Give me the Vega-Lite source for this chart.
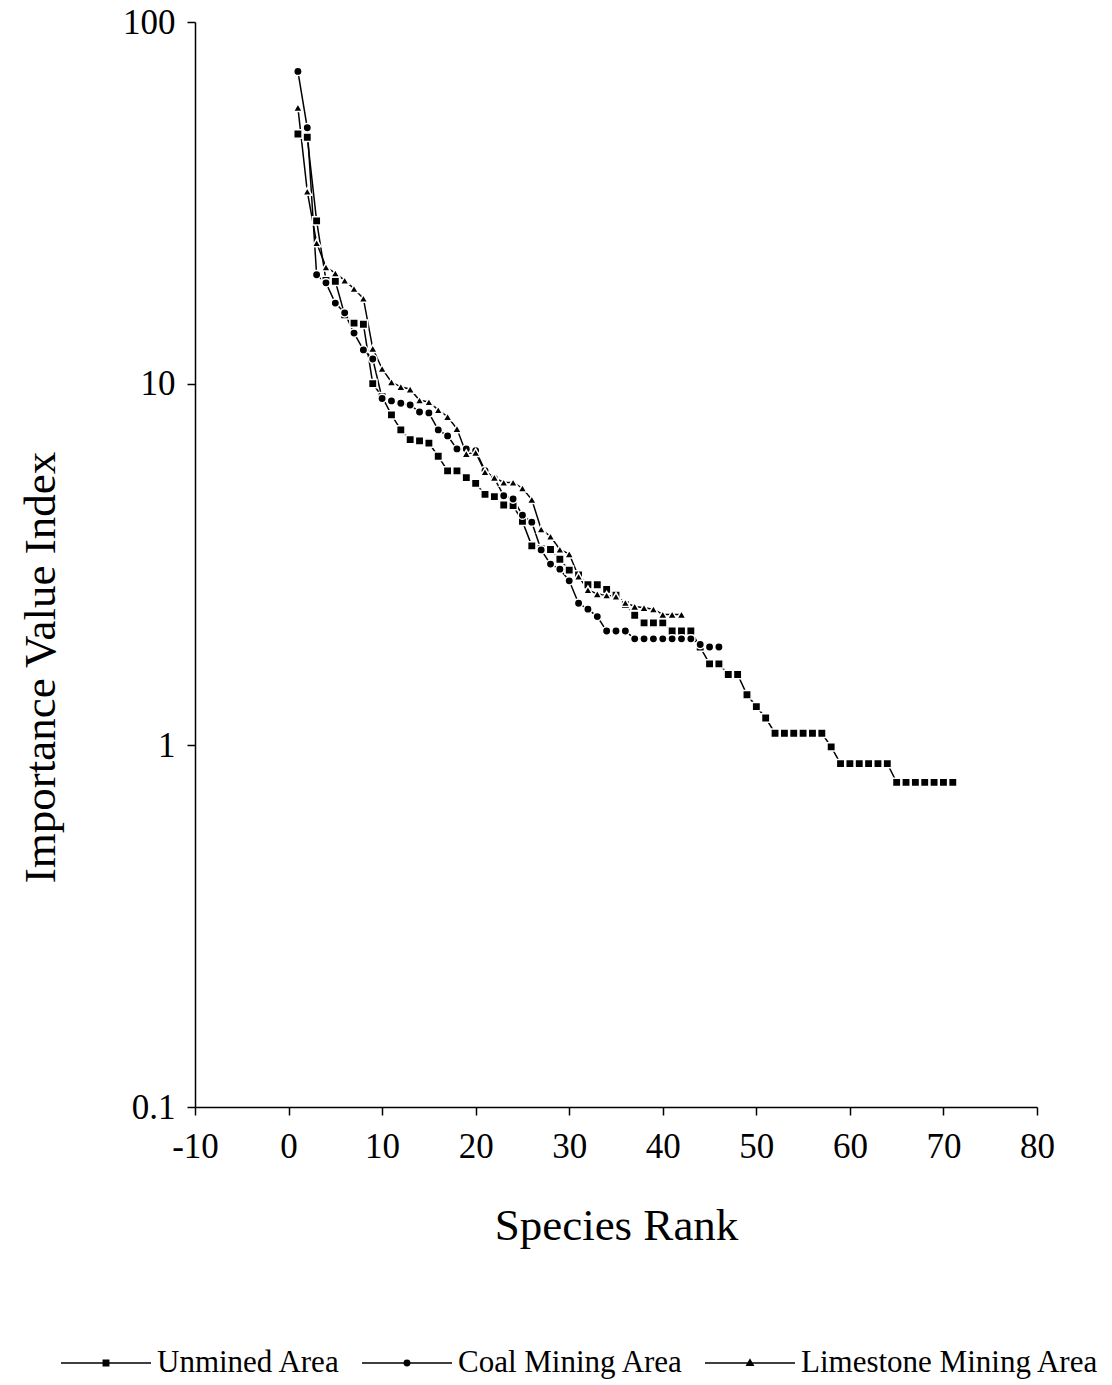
{
"$schema": "https://vega.github.io/schema/vega-lite/v6.json",
"width": 842, "height": 1085,
"autosize": {"type": "none"},
"padding": {"left": 195, "top": 22, "right": 75, "bottom": 278},
"background": "white",
"config": {"view": {"stroke": null}, "font": "Liberation Serif"},
"data": {"values": [
{"area":"Unmined Area","rank":1,"ivi":49},{"area":"Unmined Area","rank":2,"ivi":48},{"area":"Unmined Area","rank":3,"ivi":28.2},{"area":"Unmined Area","rank":4,"ivi":19.3},{"area":"Unmined Area","rank":5,"ivi":19.2},{"area":"Unmined Area","rank":6,"ivi":15.5},{"area":"Unmined Area","rank":7,"ivi":14.7},{"area":"Unmined Area","rank":8,"ivi":14.6},{"area":"Unmined Area","rank":9,"ivi":10.0},{"area":"Unmined Area","rank":10,"ivi":9.2},
{"area":"Unmined Area","rank":11,"ivi":8.2},{"area":"Unmined Area","rank":12,"ivi":7.45},{"area":"Unmined Area","rank":13,"ivi":7.0},{"area":"Unmined Area","rank":14,"ivi":6.95},{"area":"Unmined Area","rank":15,"ivi":6.85},{"area":"Unmined Area","rank":16,"ivi":6.3},{"area":"Unmined Area","rank":17,"ivi":5.74},{"area":"Unmined Area","rank":18,"ivi":5.74},{"area":"Unmined Area","rank":19,"ivi":5.5},{"area":"Unmined Area","rank":20,"ivi":5.3},
{"area":"Unmined Area","rank":21,"ivi":4.94},{"area":"Unmined Area","rank":22,"ivi":4.87},{"area":"Unmined Area","rank":23,"ivi":4.62},{"area":"Unmined Area","rank":24,"ivi":4.6},{"area":"Unmined Area","rank":25,"ivi":4.16},{"area":"Unmined Area","rank":26,"ivi":3.56},{"area":"Unmined Area","rank":27,"ivi":3.5},{"area":"Unmined Area","rank":28,"ivi":3.48},{"area":"Unmined Area","rank":29,"ivi":3.27},{"area":"Unmined Area","rank":30,"ivi":3.05},
{"area":"Unmined Area","rank":31,"ivi":2.96},{"area":"Unmined Area","rank":32,"ivi":2.78},{"area":"Unmined Area","rank":33,"ivi":2.78},{"area":"Unmined Area","rank":34,"ivi":2.7},{"area":"Unmined Area","rank":35,"ivi":2.6},{"area":"Unmined Area","rank":36,"ivi":2.45},{"area":"Unmined Area","rank":37,"ivi":2.29},{"area":"Unmined Area","rank":38,"ivi":2.18},{"area":"Unmined Area","rank":39,"ivi":2.18},{"area":"Unmined Area","rank":40,"ivi":2.18},
{"area":"Unmined Area","rank":41,"ivi":2.07},{"area":"Unmined Area","rank":42,"ivi":2.07},{"area":"Unmined Area","rank":43,"ivi":2.07},{"area":"Unmined Area","rank":44,"ivi":1.87},{"area":"Unmined Area","rank":45,"ivi":1.68},{"area":"Unmined Area","rank":46,"ivi":1.68},{"area":"Unmined Area","rank":47,"ivi":1.57},{"area":"Unmined Area","rank":48,"ivi":1.57},{"area":"Unmined Area","rank":49,"ivi":1.38},{"area":"Unmined Area","rank":50,"ivi":1.28},
{"area":"Unmined Area","rank":51,"ivi":1.19},{"area":"Unmined Area","rank":52,"ivi":1.08},{"area":"Unmined Area","rank":53,"ivi":1.08},{"area":"Unmined Area","rank":54,"ivi":1.08},{"area":"Unmined Area","rank":55,"ivi":1.08},{"area":"Unmined Area","rank":56,"ivi":1.08},{"area":"Unmined Area","rank":57,"ivi":1.08},{"area":"Unmined Area","rank":58,"ivi":0.99},{"area":"Unmined Area","rank":59,"ivi":0.89},{"area":"Unmined Area","rank":60,"ivi":0.89},
{"area":"Unmined Area","rank":61,"ivi":0.89},{"area":"Unmined Area","rank":62,"ivi":0.89},{"area":"Unmined Area","rank":63,"ivi":0.89},{"area":"Unmined Area","rank":64,"ivi":0.89},{"area":"Unmined Area","rank":65,"ivi":0.79},{"area":"Unmined Area","rank":66,"ivi":0.79},{"area":"Unmined Area","rank":67,"ivi":0.79},{"area":"Unmined Area","rank":68,"ivi":0.79},{"area":"Unmined Area","rank":69,"ivi":0.79},{"area":"Unmined Area","rank":70,"ivi":0.79},{"area":"Unmined Area","rank":71,"ivi":0.79},
{"area":"Coal Mining Area","rank":1,"ivi":73},{"area":"Coal Mining Area","rank":2,"ivi":51},{"area":"Coal Mining Area","rank":3,"ivi":20},{"area":"Coal Mining Area","rank":4,"ivi":19},{"area":"Coal Mining Area","rank":5,"ivi":16.7},{"area":"Coal Mining Area","rank":6,"ivi":15.7},{"area":"Coal Mining Area","rank":7,"ivi":13.8},{"area":"Coal Mining Area","rank":8,"ivi":12.4},{"area":"Coal Mining Area","rank":9,"ivi":11.7},{"area":"Coal Mining Area","rank":10,"ivi":9.1},
{"area":"Coal Mining Area","rank":11,"ivi":8.96},{"area":"Coal Mining Area","rank":12,"ivi":8.83},{"area":"Coal Mining Area","rank":13,"ivi":8.73},{"area":"Coal Mining Area","rank":14,"ivi":8.35},{"area":"Coal Mining Area","rank":15,"ivi":8.3},{"area":"Coal Mining Area","rank":16,"ivi":7.45},{"area":"Coal Mining Area","rank":17,"ivi":7.17},{"area":"Coal Mining Area","rank":18,"ivi":6.6},{"area":"Coal Mining Area","rank":19,"ivi":6.6},{"area":"Coal Mining Area","rank":20,"ivi":6.53},
{"area":"Coal Mining Area","rank":21,"ivi":5.75},{"area":"Coal Mining Area","rank":22,"ivi":5.47},{"area":"Coal Mining Area","rank":23,"ivi":4.9},{"area":"Coal Mining Area","rank":24,"ivi":4.8},{"area":"Coal Mining Area","rank":25,"ivi":4.33},{"area":"Coal Mining Area","rank":26,"ivi":4.14},{"area":"Coal Mining Area","rank":27,"ivi":3.47},{"area":"Coal Mining Area","rank":28,"ivi":3.17},{"area":"Coal Mining Area","rank":29,"ivi":3.07},{"area":"Coal Mining Area","rank":30,"ivi":2.85},
{"area":"Coal Mining Area","rank":31,"ivi":2.47},{"area":"Coal Mining Area","rank":32,"ivi":2.38},{"area":"Coal Mining Area","rank":33,"ivi":2.27},{"area":"Coal Mining Area","rank":34,"ivi":2.07},{"area":"Coal Mining Area","rank":35,"ivi":2.07},{"area":"Coal Mining Area","rank":36,"ivi":2.07},{"area":"Coal Mining Area","rank":37,"ivi":1.97},{"area":"Coal Mining Area","rank":38,"ivi":1.97},{"area":"Coal Mining Area","rank":39,"ivi":1.97},{"area":"Coal Mining Area","rank":40,"ivi":1.97},
{"area":"Coal Mining Area","rank":41,"ivi":1.97},{"area":"Coal Mining Area","rank":42,"ivi":1.97},{"area":"Coal Mining Area","rank":43,"ivi":1.97},{"area":"Coal Mining Area","rank":44,"ivi":1.9},{"area":"Coal Mining Area","rank":45,"ivi":1.87},{"area":"Coal Mining Area","rank":46,"ivi":1.87},
{"area":"Limestone Mining Area","rank":1,"ivi":58},{"area":"Limestone Mining Area","rank":2,"ivi":34},{"area":"Limestone Mining Area","rank":3,"ivi":24.5},{"area":"Limestone Mining Area","rank":4,"ivi":21},{"area":"Limestone Mining Area","rank":5,"ivi":20.2},{"area":"Limestone Mining Area","rank":6,"ivi":19.3},{"area":"Limestone Mining Area","rank":7,"ivi":18.3},{"area":"Limestone Mining Area","rank":8,"ivi":17.2},{"area":"Limestone Mining Area","rank":9,"ivi":12.5},{"area":"Limestone Mining Area","rank":10,"ivi":11.0},
{"area":"Limestone Mining Area","rank":11,"ivi":10.1},{"area":"Limestone Mining Area","rank":12,"ivi":9.8},{"area":"Limestone Mining Area","rank":13,"ivi":9.65},{"area":"Limestone Mining Area","rank":14,"ivi":9.0},{"area":"Limestone Mining Area","rank":15,"ivi":8.9},{"area":"Limestone Mining Area","rank":16,"ivi":8.46},{"area":"Limestone Mining Area","rank":17,"ivi":8.1},{"area":"Limestone Mining Area","rank":18,"ivi":7.5},{"area":"Limestone Mining Area","rank":19,"ivi":6.4},{"area":"Limestone Mining Area","rank":20,"ivi":6.45},
{"area":"Limestone Mining Area","rank":21,"ivi":5.7},{"area":"Limestone Mining Area","rank":22,"ivi":5.5},{"area":"Limestone Mining Area","rank":23,"ivi":5.33},{"area":"Limestone Mining Area","rank":24,"ivi":5.33},{"area":"Limestone Mining Area","rank":25,"ivi":5.14},{"area":"Limestone Mining Area","rank":26,"ivi":4.78},{"area":"Limestone Mining Area","rank":27,"ivi":3.96},{"area":"Limestone Mining Area","rank":28,"ivi":3.78},{"area":"Limestone Mining Area","rank":29,"ivi":3.48},{"area":"Limestone Mining Area","rank":30,"ivi":3.38},
{"area":"Limestone Mining Area","rank":31,"ivi":2.93},{"area":"Limestone Mining Area","rank":32,"ivi":2.69},{"area":"Limestone Mining Area","rank":33,"ivi":2.62},{"area":"Limestone Mining Area","rank":34,"ivi":2.6},{"area":"Limestone Mining Area","rank":35,"ivi":2.58},{"area":"Limestone Mining Area","rank":36,"ivi":2.48},{"area":"Limestone Mining Area","rank":37,"ivi":2.42},{"area":"Limestone Mining Area","rank":38,"ivi":2.4},{"area":"Limestone Mining Area","rank":39,"ivi":2.38},{"area":"Limestone Mining Area","rank":40,"ivi":2.3},
{"area":"Limestone Mining Area","rank":41,"ivi":2.3},{"area":"Limestone Mining Area","rank":42,"ivi":2.3}
]},
"encoding": {
  "x": {"field": "rank", "type": "quantitative",
    "scale": {"domain": [-10, 80], "nice": false, "zero": false},
    "axis": {"values": [-10, 0, 10, 20, 30, 40, 50, 60, 70, 80], "labelExpr": "'' + datum.value", "labelFlush": false,
      "title": "Species Rank", "grid": false, "tickSize": 8, "labelPadding": 14,
      "labelFontSize": 35, "labelFont": "Liberation Serif", "labelColor": "black",
      "titleFontSize": 45, "titleFont": "Liberation Serif", "titleFontWeight": "normal", "titleColor": "black",
      "titleY": 118, "titleBaseline": "middle",
      "domainColor": "black", "domainWidth": 1.5, "tickColor": "black", "tickWidth": 1.5}},
  "y": {"field": "ivi", "type": "quantitative",
    "scale": {"type": "log", "domain": [0.1, 100], "nice": false},
    "axis": {"values": [0.1, 1, 10, 100], "labelExpr": "'' + datum.value", "labelFlush": false,
      "title": "Importance Value Index", "grid": false, "tickSize": 8, "labelPadding": 12,
      "labelFontSize": 35, "labelFont": "Liberation Serif", "labelColor": "black",
      "titleFontSize": 45, "titleFont": "Liberation Serif", "titleFontWeight": "normal", "titleColor": "black",
      "titleX": -155, "titleY": 645, "titleAngle": -90, "titleAlign": "center", "titleBaseline": "middle",
      "domainColor": "black", "domainWidth": 1.5, "tickColor": "black", "tickWidth": 1.5}}
},
"layer": [
  {"mark": {"type": "line", "strokeWidth": 1.5},
   "encoding": {"color": {"field": "area", "type": "nominal",
     "scale": {"domain": ["Unmined Area", "Coal Mining Area", "Limestone Mining Area"], "range": ["black", "black", "black"]},
     "legend": {"title": null, "orient": "none", "legendX": -135, "legendY": 1295, "direction": "horizontal",
       "padding": 0, "symbolSize": 8100, "symbolStrokeWidth": 1.5, "labelOffset": 5, "columnPadding": 18, "labelLimit": 0,
       "labelFontSize": 31, "labelFont": "Liberation Serif", "labelColor": "black",
       "encode": {"symbols": {"update": {
         "shape": {"signal": "datum.value == 'Unmined Area' ? 'M-1,0H1M-0.06,-0.06H0.06V0.06H-0.06Z' : datum.value == 'Coal Mining Area' ? 'M-1,0H1M-0.06,0A0.06,0.06 0 1,0 0.06,0A0.06,0.06 0 1,0 -0.06,0Z' : 'M-1,0H1M0,-0.07L0.07,0.05H-0.07Z'"},
         "fill": {"value": "black"}, "stroke": {"value": "black"}}}}}}}},
  {"transform": [{"filter": "datum.area == 'Unmined Area'"}],
   "mark": {"type": "point", "shape": "square", "filled": true, "color": "black", "stroke": "white", "strokeWidth": 1.5, "size": 70, "opacity": 1}},
  {"transform": [{"filter": "datum.area == 'Coal Mining Area'"}],
   "mark": {"type": "point", "shape": "circle", "filled": true, "color": "black", "stroke": "white", "strokeWidth": 1.5, "size": 70, "opacity": 1}},
  {"transform": [{"filter": "datum.area == 'Limestone Mining Area'"}],
   "mark": {"type": "point", "shape": "triangle-up", "filled": true, "color": "black", "stroke": "white", "strokeWidth": 1.5, "size": 80, "opacity": 1}}
]
}
